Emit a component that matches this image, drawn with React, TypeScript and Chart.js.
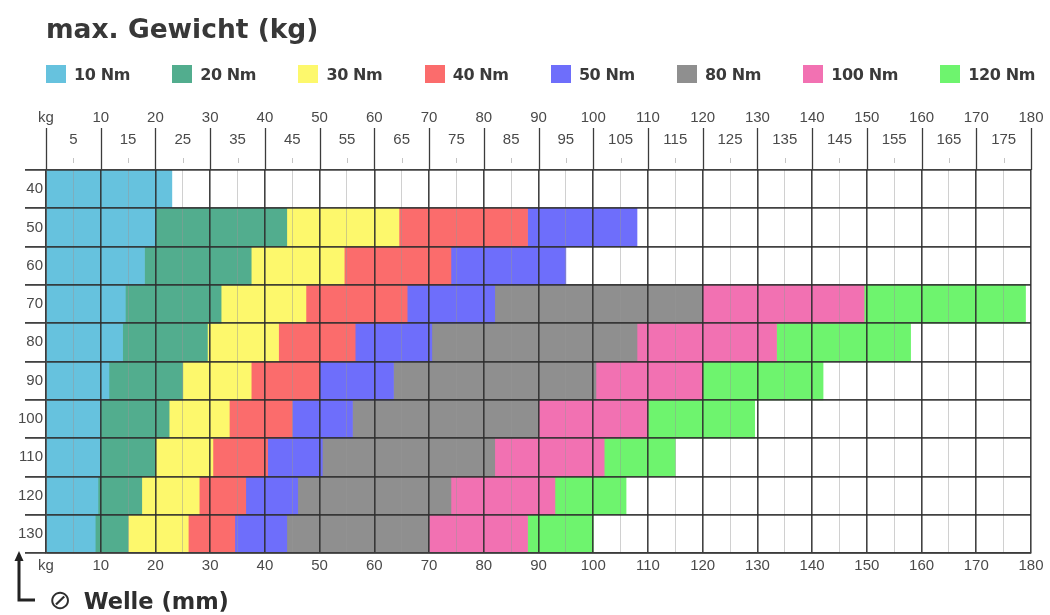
import React, { useEffect, useRef } from "react";
import { Chart, registerables } from "chart.js";

Chart.register(...registerables);

// Shaft diameters (mm) – rows
const shaftDiameters = ["40", "50", "60", "70", "80", "90", "100", "110", "120", "130"];

// Torque classes
const torqueLabels = ["10 Nm", "20 Nm", "30 Nm", "40 Nm", "50 Nm", "80 Nm", "100 Nm", "120 Nm"];
const torqueColors = ["#66c2de", "#52ad8e", "#fdf86c", "#fb6c6c", "#6e6efb", "#8f8f8f", "#f271b2", "#6ef46e"];

// Max. weight (kg) reached by each torque class, per shaft diameter
const maxKg10Nm = [23, 20, 18, 14.5, 14, 11.5, 10, 10, 9.5, 9];
const maxKg20Nm = [null, 44, 37.5, 32, 29.5, 25, 22.5, 20, 17.5, 15];
const maxKg30Nm = [null, 64.5, 54.5, 47.5, 42.5, 37.5, 33.5, 30.5, 28, 26];
const maxKg40Nm = [null, 88, 74, 66, 56.5, 50, 45, 40.5, 36.5, 34.5];
const maxKg50Nm = [null, 108, 95, 82, 70.5, 63.5, 56, 50.5, 46, 44];
const maxKg80Nm = [null, null, null, 120, 108, 100.5, 90, 82, 74, 70];
const maxKg100Nm = [null, null, null, 149.5, 133.5, 120, 110, 102, 93, 88];
const maxKg120Nm = [null, null, null, 179, 158, 142, 129.5, 115, 106, 100];

const kgMin = 0;
const kgMax = 180;
const kgStep = 5;

const FONT = "'Liberation Sans', Arial, sans-serif";
const BOLD_FONT = "'DejaVu Sans', 'Liberation Sans', sans-serif";

export default function App() {
  const canvasRef = useRef<HTMLCanvasElement>(null);

  useEffect(() => {
    const series = [maxKg10Nm, maxKg20Nm, maxKg30Nm, maxKg40Nm, maxKg50Nm, maxKg80Nm, maxKg100Nm, maxKg120Nm];
    const datasets = series.map((vals, i) => ({
      label: torqueLabels[i],
      data: vals.map((v, r) => {
        if (v == null) return null;
        let prev = 0;
        for (let j = i - 1; j >= 0; j--) {
          const pv = series[j][r];
          if (pv != null) {
            prev = pv;
            break;
          }
        }
        return [prev, v];
      }),
      backgroundColor: torqueColors[i],
      borderWidth: 0,
      grouped: false,
      barPercentage: 1,
      categoryPercentage: 1,
    }));

    const topSeparators = {
      id: "topSeparators",
      afterDraw(chart: any) {
        const { ctx, chartArea, scales } = chart;
        const xs = scales.x;
        ctx.save();
        for (let v = kgMin; v <= kgMax; v += 10) {
          const px = Math.round(xs.getPixelForValue(v)) + 0.5;
          ctx.strokeStyle = "#3c3c3c";
          ctx.lineWidth = 1.3;
          ctx.beginPath();
          ctx.moveTo(px, chartArea.top - 42);
          ctx.lineTo(px, chartArea.top);
          ctx.stroke();
        }
        for (let v = kgMin + 5; v < kgMax; v += 10) {
          const px = Math.round(xs.getPixelForValue(v)) + 0.5;
          ctx.strokeStyle = "#c4c4c4";
          ctx.lineWidth = 1;
          ctx.beginPath();
          ctx.moveTo(px, chartArea.top - 12);
          ctx.lineTo(px, chartArea.top - 7);
          ctx.stroke();
        }
        ctx.restore();
      },
    };

    const chart = new Chart(canvasRef.current as HTMLCanvasElement, {
      type: "bar",
      data: { labels: shaftDiameters, datasets: datasets as any },
      options: {
        indexAxis: "y",
        animation: false,
        responsive: false,
        maintainAspectRatio: false,
        layout: { padding: { left: 0, right: 19, top: 0, bottom: 0 } },
        plugins: {
          legend: { display: false },
          tooltip: { enabled: false },
          title: { display: false },
        },
        scales: {
          x: {
            type: "linear",
            position: "bottom",
            min: kgMin,
            max: kgMax,
            afterFit: (s: any) => {
              s.height = 62;
              s.paddingLeft = 8;
              s.paddingRight = 12;
            },
            border: { display: true, color: "#3c3c3c", width: 1.5, z: 2 },
            grid: {
              z: 1,
              drawTicks: false,
              color: (c: any) => (c.tick && c.tick.value % 10 === 0 ? "rgba(45,45,45,0.9)" : "rgba(150,150,150,0.45)"),
              lineWidth: (c: any) => (c.tick && c.tick.value % 10 === 0 ? 1.6 : 1),
            },
            ticks: {
              stepSize: kgStep,
              autoSkip: false,
              maxRotation: 0,
              padding: 4,
              color: "#4a4a4a",
              font: { family: FONT, size: 15 },
              callback: (v: any) => (v === 0 ? "kg" : v % 10 === 0 ? String(v) : ""),
            },
          },
          x2: {
            type: "linear",
            position: "top",
            min: kgMin,
            max: kgMax,
            afterFit: (s: any) => {
              s.height = 170;
              s.paddingLeft = 8;
              s.paddingRight = 12;
            },
            border: { display: false },
            grid: { display: false, drawTicks: false },
            ticks: {
              stepSize: kgStep,
              autoSkip: false,
              maxRotation: 0,
              padding: 19,
              color: "#4a4a4a",
              font: { family: FONT, size: 15, lineHeight: 1.47 },
              callback: (v: any) =>
                v === 0 ? ["kg", ""] : v % 10 === 0 ? [String(v), ""] : ["", String(v)],
            },
          },
          y: {
            type: "category",
            position: "left",
            afterFit: (s: any) => {
              s.width = 46;
            },
            border: { display: true, color: "#3c3c3c", width: 1.5, z: 2 },
            grid: {
              z: 1,
              offset: true,
              color: "rgba(45,45,45,0.9)",
              lineWidth: 1.8,
              drawTicks: true,
              tickLength: 21,
            },
            ticks: {
              padding: -18,
              color: "#4a4a4a",
              font: { family: FONT, size: 15 },
            },
          },
        },
      },
      plugins: [topSeparators],
    });

    return () => chart.destroy();
  }, []);

  return (
    <div
      style={{
        position: "absolute",
        left: 0,
        top: 0,
        width: 1050,
        height: 615,
        background: "#ffffff",
        overflow: "hidden",
        fontFamily: FONT,
      }}
    >
      <canvas ref={canvasRef} width={1050} height={615} style={{ position: "absolute", left: 0, top: 0 }} />
      <div
        style={{
          position: "absolute",
          left: 46,
          top: 14,
          fontFamily: BOLD_FONT,
          fontSize: 26.5,
          fontWeight: "bold",
          color: "#383838",
          whiteSpace: "nowrap",
          lineHeight: "30px",
        }}
      >
        max. Gewicht (kg)
      </div>
      <div
        style={{
          position: "absolute",
          left: 46,
          width: 989,
          top: 64,
          height: 20,
          display: "flex",
          justifyContent: "space-between",
          alignItems: "center",
        }}
      >
        {torqueLabels.map((lbl, i) => (
          <div key={lbl} style={{ display: "flex", alignItems: "center" }}>
            <span style={{ display: "inline-block", width: 20, height: 18, background: torqueColors[i] }} />
            <span
              style={{
                marginLeft: 8,
                fontFamily: BOLD_FONT,
                fontSize: 16,
                fontWeight: "bold",
                color: "#3a3a3a",
                letterSpacing: -0.4,
                whiteSpace: "nowrap",
              }}
            >
              {lbl}
            </span>
          </div>
        ))}
      </div>
      <svg style={{ position: "absolute", left: 0, top: 545 }} width={60} height={70}>
        <polyline points="19,13 19,55 35,55" fill="none" stroke="#222" strokeWidth={3} />
        <polygon points="19,6 14.5,16 23.5,16" fill="#222" />
      </svg>
      <div
        style={{
          position: "absolute",
          left: 49,
          top: 585,
          fontFamily: BOLD_FONT,
          fontSize: 22.5,
          fontWeight: "bold",
          color: "#2e2e2e",
          whiteSpace: "nowrap",
          lineHeight: "30px",
        }}
      >
        <span style={{ fontWeight: "normal", fontSize: 27, marginRight: 12 }}>⊘</span>
        Welle (mm)
      </div>
    </div>
  );
}
